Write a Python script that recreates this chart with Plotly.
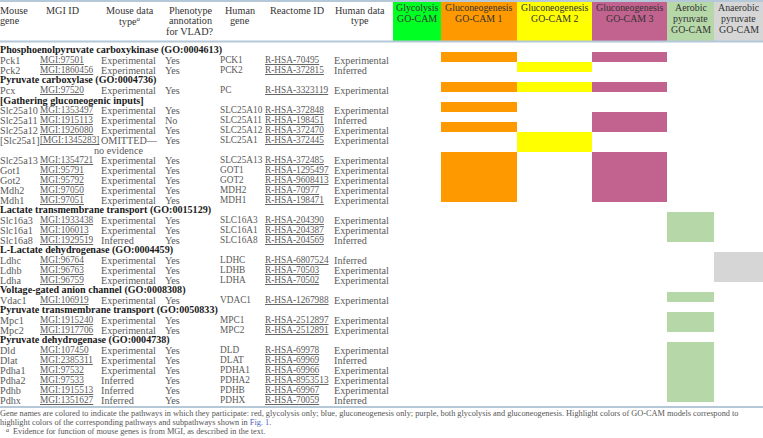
import plotly.graph_objects as go

# ---------------- data ----------------
section_titles = [
    "Phosphoenolpyruvate carboxykinase (GO:0004613)",
    "Pyruvate carboxylase (GO:0004736)",
    "[Gathering gluconeogenic inputs]",
    "Lactate transmembrane transport (GO:0015129)",
    "L-Lactate dehydrogenase (GO:0004459)",
    "Voltage-gated anion channel (GO:0008308)",
    "Pyruvate transmembrane transport (GO:0050833)",
    "Pyruvate dehydrogenase (GO:0004738)",
]
genes = ["Pck1", "Pck2", "Pcx", "Slc25a10", "Slc25a11", "Slc25a12", "[Slc25a1]", "Slc25a13",
         "Got1", "Got2", "Mdh2", "Mdh1", "Slc16a3", "Slc16a1", "Slc16a8", "Ldhc", "Ldhb", "Ldha",
         "Vdac1", "Mpc1", "Mpc2", "Dld", "Dlat", "Pdha1", "Pdha2", "Pdhb", "Pdhx"]
gene_section = [0, 0, 1, 2, 2, 2, 2, 2, 2, 2, 2, 2, 3, 3, 3, 4, 4, 4, 5, 6, 6, 7, 7, 7, 7, 7, 7]
mgi_ids = ["MGI:97501", "MGI:1860456", "MGI:97520", "MGI:1353497", "MGI:1915113", "MGI:1926080",
           "[MGI:1345283]", "MGI:1354721", "MGI:95791", "MGI:95792", "MGI:97050", "MGI:97051",
           "MGI:1933438", "MGI:106013", "MGI:1929519", "MGI:96764", "MGI:96763", "MGI:96759",
           "MGI:106919", "MGI:1915240", "MGI:1917706", "MGI:107450", "MGI:2385311", "MGI:97532",
           "MGI:97533", "MGI:1915513", "MGI:1351627"]
mouse_type = ["Experimental", "Experimental", "Experimental", "Experimental", "Experimental",
              "Experimental", "OMITTED—|no evidence", "Experimental", "Experimental", "Experimental",
              "Experimental", "Experimental", "Experimental", "Experimental", "Inferred",
              "Experimental", "Experimental", "Experimental", "Experimental", "Experimental",
              "Experimental", "Experimental", "Experimental", "Experimental", "Inferred",
              "Inferred", "Inferred"]
phenotype = ["Yes", "Yes", "Yes", "Yes", "No", "Yes", "Yes", "Yes", "Yes", "Yes", "Yes", "Yes",
             "Yes", "Yes", "Yes", "Yes", "Yes", "Yes", "Yes", "Yes", "Yes", "Yes", "Yes", "Yes",
             "Yes", "Yes", "Yes"]
human_gene = ["PCK1", "PCK2", "PC", "SLC25A10", "SLC25A11", "SLC25A12", "SLC25A1", "SLC25A13",
              "GOT1", "GOT2", "MDH2", "MDH1", "SLC16A3", "SLC16A1", "SLC16A8", "LDHC", "LDHB",
              "LDHA", "VDAC1", "MPC1", "MPC2", "DLD", "DLAT", "PDHA1", "PDHA2", "PDHB", "PDHX"]
reactome_ids = ["R-HSA-70495", "R-HSA-372815", "R-HSA-3323119", "R-HSA-372848", "R-HSA-198451",
                "R-HSA-372470", "R-HSA-372445", "R-HSA-372485", "R-HSA-1295497", "R-HSA-9608413",
                "R-HSA-70977", "R-HSA-198471", "R-HSA-204390", "R-HSA-204387", "R-HSA-204569",
                "R-HSA-6807524", "R-HSA-70503", "R-HSA-70502", "R-HSA-1267988", "R-HSA-2512897",
                "R-HSA-2512891", "R-HSA-69978", "R-HSA-69969", "R-HSA-69966", "R-HSA-8953513",
                "R-HSA-69967", "R-HSA-70059"]
human_type = ["Experimental", "Inferred", "Experimental", "Experimental", "Inferred",
              "Experimental", "Experimental", "Experimental", "Experimental", "Experimental",
              "Experimental", "Experimental", "Experimental", "Experimental", "Inferred",
              "Inferred", "Experimental", "Experimental", "Experimental", "Experimental",
              "Experimental", "Experimental", "Inferred", "Experimental", "Experimental",
              "Experimental", "Inferred"]

gocam_names = ["Glycolysis|GO-CAM", "Gluconeogenesis|GO-CAM 1", "Gluconeogenesis|GO-CAM 2",
               "Gluconeogenesis|GO-CAM 3", "Aerobic|pyruvate|GO-CAM", "Anaerobic|pyruvate|GO-CAM"]
gocam_members = [
    [],
    ["Pck1", "Pcx", "Slc25a10", "Slc25a12", "Slc25a13", "Got1", "Got2", "Mdh2", "Mdh1"],
    ["Pck2", "Pcx", "[Slc25a1]"],
    ["Pck1", "Pcx", "Slc25a11", "Slc25a12", "Slc25a13", "Got1", "Got2", "Mdh2", "Mdh1"],
    ["Slc16a3", "Slc16a1", "Slc16a8", "Vdac1", "Mpc1", "Mpc2", "Dld", "Dlat", "Pdha1", "Pdha2",
     "Pdhb", "Pdhx"],
    ["Ldhc", "Ldhb", "Ldha"],
]
text_headers = ["Mouse|gene", "MGI ID", "Mouse data|type<sup><i>a</i></sup>",
                "Phenotype|annotation|for VLAD?", "Human|gene", "Reactome ID", "Human data|type"]

footnote_1 = ("Gene names are colored to indicate the pathways in which they participate: red, "
              "glycolysis only; blue, gluconeogenesis only; purple, both glycolysis and "
              "gluconeogenesis. Highlight colors of GO-CAM models correspond to")
footnote_2 = ("highlight colors of the corresponding pathways and subpathways shown in "
              "<span style='color:#4a66c4'>Fig. 1</span>.")
footnote_3 = "Evidence for function of mouse genes is from MGI, as described in the text."

# ---------------- layout / style ----------------
W, H = 763, 438
FONT = "Liberation Serif"
BODY_COLOR = "#5a5a5a"
HEAD_COLOR = "#1a1a1a"
RULE = "#b4c8d8"
LOWER_SIZE = 10.2   # mostly-lowercase columns
CAPS_SIZE = 9.3     # ID / upper-case columns
PAD = 2  # annotation inner padding compensation

col_left = [2, 42, 103, 167, 222, 267, 336]          # text columns (left edges)
col_size = [LOWER_SIZE, CAPS_SIZE, LOWER_SIZE, LOWER_SIZE, CAPS_SIZE, CAPS_SIZE, LOWER_SIZE]
hdr_center = [None, 62, 130, 190, 240, 297, 360]     # header centres for text cols
gocam_edges = [393, 441, 517, 592, 667, 714, 763]
gocam_colors = ["#00ff22", "#ff9900", "#ffff00", "#c2628f", "#b6d7a8", "#d6d6d6"]


def u(px):
    """pixel row -> y data unit (10 px per text line, line 0 at 50 px)."""
    return (px - 50) / 10.0


# assign text lines
line_of_gene = {}
gene_lines_count = {}
section_line = []
line = 0
for s, title in enumerate(section_titles):
    section_line.append(line)
    line += 1
    for g, sec in zip(genes, gene_section):
        if sec == s:
            line_of_gene[g] = line
            n = 2 if "|" in mouse_type[genes.index(g)] else 1
            gene_lines_count[g] = n
            line += n

fig = go.Figure()

# header coloured cells
for k in range(len(gocam_names)):
    x0, x1 = gocam_edges[k], gocam_edges[k + 1]
    fig.add_trace(go.Bar(x=[(x0 + x1) / 2], y=[u(41) - u(1.5)], base=[u(1.5)],
                         width=[x1 - x0], marker=dict(color=gocam_colors[k], line=dict(width=0)),
                         hoverinfo="skip"))

# membership cells
for k, members in enumerate(gocam_members):
    if not members:
        continue
    x0, x1 = gocam_edges[k], gocam_edges[k + 1]
    bases = [line_of_gene[g] - 0.8 for g in members]
    heights = [gene_lines_count[g] for g in members]
    fig.add_trace(go.Bar(x=[(x0 + x1) / 2] * len(members), y=heights, base=bases,
                         width=[x1 - x0] * len(members),
                         marker=dict(color=gocam_colors[k], line=dict(width=0)),
                         hoverinfo="skip"))

ann = []


def add_text(x, y, text, anchor="left", size=LOWER_SIZE, color=BODY_COLOR, under=False):
    f = dict(family=FONT, size=size, color=color)
    if under:
        f["lineposition"] = "under"
    if anchor == "left":
        x = x - PAD
    ann.append(dict(x=x, y=y, xref="x", yref="y", text=text, showarrow=False,
                    xanchor=anchor, yanchor="middle", font=f, borderpad=0, borderwidth=0))


# header text
for c, h in enumerate(text_headers):
    parts = h.split("|")
    for i, p in enumerate(parts):
        y = u(10 + 10.5 * i)
        if c == 0:
            add_text(col_left[0], y, p, "left", 10.2, "#333333")
        else:
            add_text(hdr_center[c], y, p, "center", 10.2, "#333333")
for k, h in enumerate(gocam_names):
    xc = (gocam_edges[k] + gocam_edges[k + 1]) / 2
    for i, p in enumerate(h.split("|")):
        add_text(xc, u(7 + 11.3 * i), p, "center", 9.9, "#333333")

# section headings
for s, title in enumerate(section_titles):
    add_text(2, section_line[s], "<b>" + title + "</b>", "left", 10.1, HEAD_COLOR)

# body rows
for i, g in enumerate(genes):
    y = line_of_gene[g]
    add_text(col_left[0], y, g, size=col_size[0])
    add_text(col_left[1], y, mgi_ids[i], size=col_size[1], under=True)
    mt = mouse_type[i].split("|")
    add_text(col_left[2], y, mt[0], size=col_size[2])
    if len(mt) > 1:
        add_text(118, y + 1, mt[1], "center", size=col_size[2])
    add_text(col_left[3], y, phenotype[i], size=col_size[3])
    add_text(col_left[4], y, human_gene[i], size=col_size[4])
    add_text(col_left[5], y, reactome_ids[i], size=col_size[5], under=True)
    add_text(col_left[6], y, human_type[i], size=col_size[6])

# footnotes
FN = 8.3
add_text(2, u(413.5), footnote_1, "left", FN, "#555555")
add_text(2, u(422.5), footnote_2, "left", FN, "#555555")
add_text(8, u(429.5), "<i>a</i>", "left", 6.5, "#555555")
add_text(15, u(431.5), footnote_3, "left", FN, "#555555")

# rules
shapes = []
for py, wd in [(1, 2), (41.5, 2), (407, 2)]:
    shapes.append(dict(type="line", xref="x", yref="y", x0=0, x1=W, y0=u(py), y1=u(py),
                       line=dict(color=RULE, width=wd), layer="above"))

fig.update_layout(
    width=W, height=H, margin=dict(l=0, r=0, t=0, b=0),
    paper_bgcolor="white", plot_bgcolor="white", showlegend=False,
    barmode="overlay", bargap=0,
    xaxis=dict(range=[0, W], visible=False, fixedrange=True),
    yaxis=dict(range=[u(H), u(0)], visible=False, fixedrange=True),
    annotations=ann, shapes=shapes,
)

fig.write_html("out.html", config={"displayModeBar": False},
               post_script="document.body.style.margin='0px';document.body.style.overflow='hidden';")
